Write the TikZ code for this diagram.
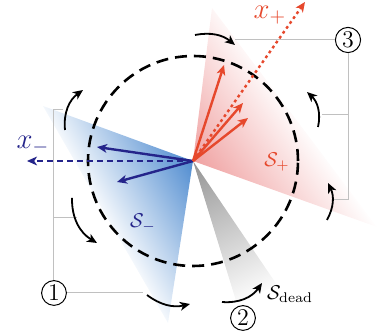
\documentclass[tikz,border=0pt]{standalone}
\usetikzlibrary{arrows.meta}

\definecolor{azul}{RGB}{36,36,138}
\definecolor{rojo}{RGB}{230,72,44}
\definecolor{azulsombra}{RGB}{80,140,208}
\definecolor{rojosombra}{RGB}{240,162,162}
\definecolor{grissombra}{RGB}{148,148,148}
\definecolor{lineagris}{RGB}{192,192,192}

\begin{document}
\begin{tikzpicture}[
    x=0.5pt,
    y=0.5pt,
    >={Stealth[length=5pt,width=4.4pt,inset=1.4pt]},
    giro/.style={
        ->,
        line width=0.9pt
    },
    guia/.style={
        draw=lineagris,
        line width=0.5pt
    },
    numero/.style={
        draw,
        circle,
        line width=0.5pt,
        inner sep=0.9pt,
        fill=white,
        font=\large
    },
    flecha/.style={
        ->,
        line width=1.2pt
    }
]
    \useasboundingbox (-193,-174) rectangle (192,161);

    \coordinate (O) at (0,0);
    \coordinate (azul-a) at (-150,55);
    \coordinate (azul-b) at (-25,-162);
    \coordinate (rojo-a) at (19,153);
    \coordinate (rojo-b) at (184,-66);
    \coordinate (gris-a) at (44,-143);
    \coordinate (gris-b) at (84,-124);

    % regiones
    \begin{scope}
        \clip (O) -- (gris-a) -- (gris-b) -- cycle;
        \shade[transform canvas={rotate=26}, top color=grissombra,
            bottom color=white] (-250,-152) rectangle (250,0);
    \end{scope}
    \begin{scope}
        \clip (O) -- (azul-a) -- (azul-b) -- cycle;
        \shade[transform canvas={rotate=-60}, top color=azulsombra,
            middle color=azulsombra!72, bottom color=white]
            (-250,-110) rectangle (250,0);
    \end{scope}
    \begin{scope}
        \clip (O) -- (rojo-a) -- (rojo-b) -- cycle;
        \shade[transform canvas={rotate=125}, top color=rojosombra,
            bottom color=white] (-250,-114) rectangle (250,0);
    \end{scope}

    \draw[line width=1.3pt, dash pattern=on 6pt off 3.5pt]
        (O) circle[radius=105];

    \node[numero] (uno) at (-139,-132) {1};
    \node[numero] (dos) at (50,-157) {2};
    \node[numero] (tres) at (155,121) {3};

    \draw[guia] (-130,51) -| (uno.north);
    \draw[guia] (uno.east) -- (-50,-132);
    \draw[guia] (-139,-57) -- (-116,-57);
    \draw[guia] (42,121) -- (tres.west);
    \draw[guia] (tres.south) |- (140,-39);
    \draw[guia] (129,46) -- (155,46);

    % giros
    \draw[giro] (-128,31) to[bend left=30] (-110,71);
    \draw[giro] (2,126) to[bend left=25] (42,116);
    \draw[giro] (125,34) to[bend right=30] (114,69);
    \draw[giro] (134,-59) to[bend right=27] (135,-22);
    \draw[giro] (-121,-37) to[bend right=30] (-96,-82);
    \draw[giro] (-46,-134) to[bend right=25] (-3,-143);
    \draw[giro] (29,-141) to[bend right=30] (69,-122);

    \coordinate (xm) at (-166,0);
    \coordinate (am) at (-96,14);
    \coordinate (bm) at (-76,-21);
    \draw[flecha, azul, dash pattern=on 3pt off 2pt] (O) -- (xm);
    \draw[flecha, azul] (O) -- (am);
    \draw[flecha, azul] (O) -- (bm);

    \coordinate (xp) at (112,159);
    \coordinate (ap) at (31,96);
    \coordinate (bp) at (50,58);
    \coordinate (cp) at (55,43);
    \draw[flecha, rojo, dash pattern=on 1.4pt off 1.6pt] (O) -- (xp);
    \draw[flecha, rojo] (O) -- (ap);
    \draw[flecha, rojo] (O) -- (bp);
    \draw[flecha, rojo] (O) -- (cp);

    \node[text=azul, font=\Large] (xmenos) at (-160,16) {$x_-$};
    \node[text=rojo, font=\Large, inner sep=1pt] (xmas) at (77,146) {$x_+$};
    \node[text=rojo] (smas) at (84,-1) {$\mathcal{S}_+$};
    \node[text=azul] (smenos) at (-50,-62) {$\mathcal{S}_-$};
    \node (sdead) at (97,-133) {$\mathcal{S}_{\mathrm{dead}}$};
\end{tikzpicture}
\end{document}
